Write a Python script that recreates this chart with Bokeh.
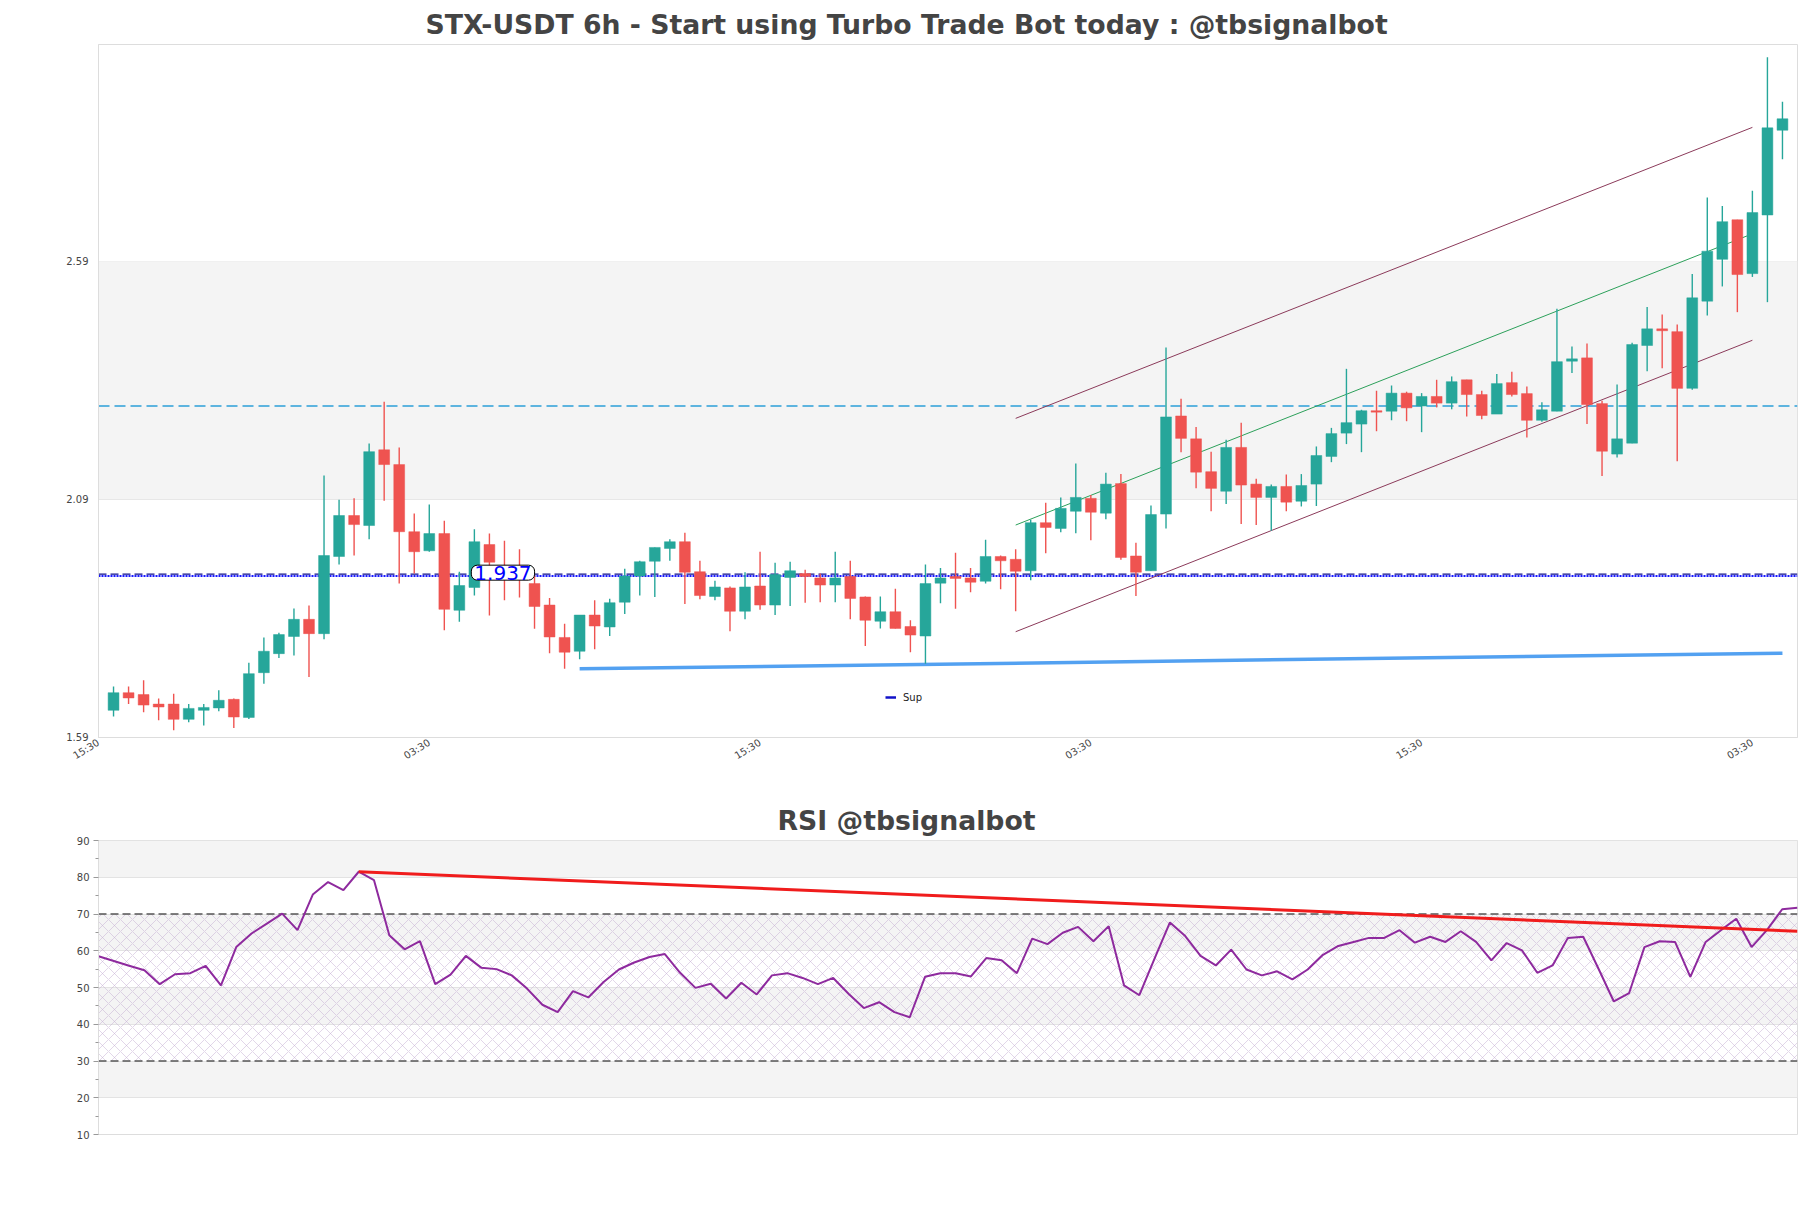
import numpy as np
from bokeh.plotting import figure
from bokeh.layouts import column
from bokeh.models import (Range1d, FixedTicker, Label, Legend, LegendItem, ColumnDataSource,
                          BoxAnnotation)
from bokeh.embed import file_html
from bokeh.resources import INLINE

# ---------------- data ----------------
opens = [1.647, 1.684, 1.680, 1.660, 1.660, 1.628, 1.647, 1.652, 1.670, 1.632,
         1.726, 1.766, 1.802, 1.838, 1.808, 1.970, 2.056, 2.035, 2.194, 2.163,
         2.022, 1.982, 2.018, 1.857, 1.905, 1.995, 1.950, 1.940, 1.913, 1.868,
         1.800, 1.771, 1.847, 1.822, 1.874, 1.929, 1.960, 1.987, 2.001, 1.938,
         1.886, 1.904, 1.855, 1.908, 1.868, 1.926, 1.934, 1.925, 1.910, 1.928,
         1.885, 1.834, 1.854, 1.823, 1.803, 1.914, 1.928, 1.925, 1.918, 1.970,
         1.964, 1.940, 2.041, 2.029, 2.065, 2.092, 2.061, 2.123, 1.971, 1.940,
         2.059, 2.265, 2.217, 2.148, 2.107, 2.199, 2.122, 2.094, 2.117, 2.086,
         2.122, 2.180, 2.229, 2.248, 2.276, 2.275, 2.313, 2.286, 2.306, 2.292,
         2.341, 2.310, 2.269, 2.335, 2.312, 2.256, 2.275, 2.380, 2.387, 2.291,
         2.185, 2.208, 2.413, 2.448, 2.442, 2.323, 2.506, 2.594, 2.677, 2.564,
         2.687, 2.865]
highs = [1.697, 1.697, 1.710, 1.672, 1.682, 1.660, 1.660, 1.689, 1.672, 1.747,
         1.800, 1.810, 1.861, 1.867, 2.140, 2.089, 2.092, 2.207, 2.295, 2.199,
         2.060, 2.079, 2.045, 1.938, 2.027, 2.018, 2.003, 1.985, 1.930, 1.883,
         1.829, 1.847, 1.878, 1.881, 1.944, 1.961, 1.989, 2.006, 2.020, 1.961,
         1.919, 1.907, 1.937, 1.980, 1.957, 1.959, 1.942, 1.934, 1.980, 1.961,
         1.886, 1.886, 1.902, 1.836, 1.953, 1.946, 1.978, 1.946, 2.005, 1.972,
         1.985, 2.047, 2.083, 2.094, 2.165, 2.099, 2.146, 2.143, 1.999, 2.077,
         2.409, 2.301, 2.242, 2.190, 2.215, 2.251, 2.133, 2.121, 2.142, 2.143,
         2.201, 2.240, 2.364, 2.278, 2.318, 2.329, 2.316, 2.313, 2.341, 2.348,
         2.341, 2.318, 2.353, 2.358, 2.327, 2.294, 2.490, 2.411, 2.417, 2.297,
         2.331, 2.419, 2.494, 2.478, 2.457, 2.563, 2.724, 2.706, 2.677, 2.738,
         3.018, 2.925]
lows = [1.634, 1.660, 1.643, 1.626, 1.605, 1.622, 1.615, 1.645, 1.610, 1.629,
        1.703, 1.757, 1.762, 1.717, 1.796, 1.953, 1.972, 2.006, 2.087, 1.913,
        1.934, 1.980, 1.815, 1.833, 1.888, 1.846, 1.878, 1.884, 1.818, 1.767,
        1.734, 1.754, 1.775, 1.803, 1.849, 1.888, 1.885, 1.961, 1.870, 1.880,
        1.878, 1.813, 1.838, 1.858, 1.847, 1.866, 1.873, 1.874, 1.874, 1.838,
        1.782, 1.819, 1.819, 1.769, 1.745, 1.872, 1.860, 1.895, 1.913, 1.901,
        1.855, 1.920, 1.977, 2.021, 2.019, 2.004, 2.048, 1.963, 1.887, 1.940,
        2.029, 2.189, 2.113, 2.065, 2.080, 2.038, 2.036, 2.024, 2.065, 2.075,
        2.076, 2.168, 2.206, 2.189, 2.233, 2.256, 2.254, 2.231, 2.283, 2.279,
        2.264, 2.258, 2.269, 2.306, 2.220, 2.253, 2.275, 2.355, 2.248, 2.139,
        2.178, 2.208, 2.359, 2.365, 2.170, 2.320, 2.476, 2.537, 2.483, 2.557,
        2.504, 2.804]
closes = [1.684, 1.673, 1.658, 1.654, 1.628, 1.651, 1.653, 1.668, 1.633, 1.724,
          1.771, 1.806, 1.838, 1.808, 1.972, 2.056, 2.037, 2.190, 2.163, 2.022,
          1.980, 2.018, 1.859, 1.909, 2.001, 1.958, 1.925, 1.930, 1.865, 1.801,
          1.769, 1.847, 1.824, 1.873, 1.929, 1.959, 1.989, 2.001, 1.937, 1.888,
          1.906, 1.855, 1.906, 1.868, 1.932, 1.940, 1.928, 1.910, 1.925, 1.882,
          1.836, 1.854, 1.819, 1.805, 1.913, 1.925, 1.924, 1.916, 1.970, 1.961,
          1.939, 2.041, 2.031, 2.071, 2.094, 2.063, 2.122, 1.968, 1.937, 2.058,
          2.263, 2.218, 2.147, 2.113, 2.199, 2.120, 2.094, 2.117, 2.084, 2.119,
          2.182, 2.228, 2.251, 2.276, 2.273, 2.313, 2.282, 2.306, 2.292, 2.337,
          2.310, 2.266, 2.333, 2.310, 2.256, 2.278, 2.379, 2.385, 2.289, 2.191,
          2.217, 2.415, 2.448, 2.444, 2.323, 2.513, 2.611, 2.673, 2.562, 2.692,
          2.870, 2.889]

rsi_values = [58.5, 57.2, 55.9, 54.7, 50.9, 53.6, 53.9, 55.9, 50.6, 61.0,
              64.7, 67.4, 70.1, 65.6, 75.3, 78.7, 76.5, 81.5, 79.2, 64.2,
              60.4, 62.6, 50.9, 53.5, 58.6, 55.4, 55.0, 53.3, 49.7, 45.3,
              43.3, 49.0, 47.3, 51.5, 54.9, 56.8, 58.3, 59.1, 54.0, 49.9,
              51.0, 47.0, 51.3, 48.1, 53.3, 53.9, 52.6, 50.9, 52.6, 48.3,
              44.4, 46.0, 43.3, 41.9, 52.9, 53.9, 53.9, 53.0, 58.0, 57.4,
              53.9, 63.3, 61.8, 64.9, 66.5, 62.6, 66.7, 50.6, 47.9, 57.9,
              67.7, 64.0, 58.6, 56.0, 60.3, 54.9, 53.3, 54.4, 52.2, 54.9,
              58.9, 61.3, 62.4, 63.5, 63.5, 65.6, 62.2, 63.8, 62.4, 65.3,
              62.4, 57.4, 62.1, 60.1, 54.0, 56.0, 63.5, 63.8, 55.1, 46.2,
              48.5, 61.0, 62.6, 62.4, 52.9, 62.4, 65.6, 68.7, 61.0, 65.6,
              71.3, 71.7]

x_tick_pos = [-1, 21, 43, 65, 87, 109]
x_tick_labels = ["15:30", "03:30", "15:30", "03:30", "15:30", "03:30"]
price_ticks = [1.59, 2.09, 2.59]
price_band = (2.09, 2.59)
rsi_ticks = [10, 20, 30, 40, 50, 60, 70, 80, 90]
rsi_minor = [15, 25, 35, 45, 55, 65, 75, 85]

resistance_level = 2.286
pivot_dash_level = 1.933
pivot_dot_level = 1.929
pivot_text = "1.937"
pivot_label_pos = (25.9, 1.936)

support_x = [31, 111]
support_y = [1.734, 1.767]
chan_x = [60, 109]
chan_upper = [2.260, 2.871]
chan_mid = [2.036, 2.6475]
chan_lower = [1.812, 2.424]

rsi_trend_idx = [17, 111]          # RSI point numbers
rsi_trend_y = [81.5, 65.3]
rsi_upper, rsi_lower = 70, 30

TITLE_MAIN = "STX-USDT 6h - Start using Turbo Trade Bot today : @tbsignalbot"
TITLE_RSI = "RSI @tbsignalbot"

# ---------------- styling helpers ----------------
FONT = "DejaVu Sans"
X0, X1 = -1, 112
UP, DOWN = "#26a69a", "#ef5350"


def style(p):
    p.outline_line_color = "#dddddd"
    p.outline_line_width = 1
    p.xgrid.grid_line_color = None
    p.ygrid.grid_line_color = "#e3e3e3"
    p.background_fill_color = "white"
    p.border_fill_color = "white"
    for ax in p.axis:
        ax.axis_line_color = "#dddddd"
        ax.major_label_text_font = FONT
        ax.major_label_text_color = "#444444"
        ax.major_label_text_font_size = "10px"
    p.title.text_font = FONT
    p.title.text_font_size = "26.7px"
    p.title.text_font_style = "bold"
    p.title.text_color = "#444444"
    p.title.align = "left"


# ---------------- main price chart ----------------
n = len(opens)
xs = list(range(n))
o = np.array(opens); c = np.array(closes)
top = np.maximum(o, c); bot = np.minimum(o, c)
small = (top - bot) < 0.003
mid = (top + bot) / 2
top = np.where(small, mid + 0.0015, top)
bot = np.where(small, mid - 0.0015, bot)
colors = [UP if cl >= op else DOWN for op, cl in zip(opens, closes)]

src = ColumnDataSource(dict(x=xs, high=highs, low=lows, top=top, bottom=bot, color=colors))

p1 = figure(width=1803, height=787, x_range=Range1d(X0, X1), y_range=Range1d(1.5899, 3.045),
            output_backend="svg", toolbar_location=None, title=TITLE_MAIN,
            min_border_left=98, min_border_right=6, min_border_top=44, min_border_bottom=50)
style(p1)
p1.title.offset = 327
p1.title.standoff = 10

p1.add_layout(BoxAnnotation(bottom=price_band[0], top=price_band[1], fill_color="#f4f4f4",
                            fill_alpha=1.0, line_alpha=0, level="underlay"))

p1.yaxis.ticker = FixedTicker(ticks=price_ticks)
p1.ygrid.ticker = FixedTicker(ticks=price_ticks)
p1.yaxis.major_tick_out = 0
p1.yaxis.major_tick_in = 0
p1.yaxis.minor_tick_out = 0
p1.yaxis.minor_tick_in = 0
p1.yaxis.major_label_standoff = 10

p1.xaxis.ticker = FixedTicker(ticks=x_tick_pos)
p1.xaxis.major_label_overrides = {t: lab for t, lab in zip(x_tick_pos, x_tick_labels)}
p1.xaxis.major_label_orientation = 0.55
p1.xaxis.major_tick_out = 0
p1.xaxis.major_tick_in = 0
p1.xaxis.minor_tick_out = 0
p1.xaxis.minor_tick_in = 0
p1.xaxis.major_label_standoff = 4

# horizontal levels
p1.line([X0, X1], [resistance_level] * 2, line_color="#2b9fd8", line_width=1.3, line_dash="11 5")
p1.line([X0, X1], [pivot_dot_level] * 2, line_color="#1a1aff", line_width=2.2, line_dash="2 1")
p1.line([X0, X1], [pivot_dash_level] * 2, line_color="#10108a", line_width=1.4, line_dash="8 4")

# channel
p1.line(chan_x, chan_upper, line_color="#8b3a5a", line_width=1)
p1.line(chan_x, chan_lower, line_color="#8b3a5a", line_width=1)
p1.line(chan_x, chan_mid, line_color="#2ca05a", line_width=1)

# support
p1.line(support_x, support_y, line_color="#4a9cf0", line_width=3.5, line_alpha=0.95)

# candles
p1.segment(x0="x", y0="high", x1="x", y1="low", color="color", line_width=1.4, source=src)
p1.vbar(x="x", width=0.72, top="top", bottom="bottom", fill_color="color", line_color="color",
        line_width=0.5, source=src)

# pivot label
lab = Label(x=pivot_label_pos[0], y=pivot_label_pos[1], text=pivot_text, text_align="center",
            text_baseline="middle", text_color="#0000ff", text_font=FONT, text_font_size="20px",
            background_fill_color="white", background_fill_alpha=1.0,
            border_line_color="black", border_line_width=1,
            padding=dict(left=3, right=3, top=1, bottom=0), border_radius=6)
p1.add_layout(lab)

# legend
dummy = p1.line(x=[np.nan, np.nan], y=[np.nan, np.nan], line_color="#1212c8", line_width=2.5)
legend = Legend(items=[LegendItem(label="Sup", renderers=[dummy])], location=(787, 34),
                padding=0, margin=0, background_fill_alpha=0, border_line_alpha=0,
                glyph_width=11, glyph_height=10, label_standoff=7, label_height=12,
                label_text_font=FONT, label_text_font_size="10px", label_text_color="#222222")
p1.add_layout(legend)

# ---------------- RSI chart ----------------
p2 = figure(width=1803, height=367, x_range=p1.x_range, y_range=Range1d(10, 90),
            output_backend="svg", toolbar_location=None, title=TITLE_RSI,
            min_border_left=98, min_border_right=6, min_border_top=53, min_border_bottom=20)
style(p2)
p2.title.standoff = 9
p2.ygrid.band_fill_color = "#f4f4f4"
p2.ygrid.band_fill_alpha = 1.0
p2.title.offset = 679
p2.xaxis.visible = False
p2.yaxis.ticker = FixedTicker(ticks=rsi_ticks, minor_ticks=rsi_minor)
p2.ygrid.ticker = FixedTicker(ticks=rsi_ticks)
p2.yaxis.major_tick_out = 5
p2.yaxis.major_tick_in = 0
p2.yaxis.minor_tick_out = 3
p2.yaxis.minor_tick_in = 0
p2.yaxis.major_tick_line_color = "#999999"
p2.yaxis.minor_tick_line_color = "#999999"
p2.yaxis.major_label_standoff = 4

p2.quad(left=[X0], right=[X1], bottom=[rsi_lower], top=[rsi_upper], fill_alpha=0, line_alpha=0,
        hatch_pattern="x", hatch_color="#c4aed2", hatch_alpha=0.7, hatch_scale=12, hatch_weight=0.7)
p2.line([X0, X1], [rsi_upper] * 2, line_color="#555555", line_width=1.3, line_dash="8 4")
p2.line([X0, X1], [rsi_lower] * 2, line_color="#555555", line_width=1.3, line_dash="8 4")

# RSI points are spread evenly across the full frame width
rsi_x = np.linspace(X0, X1, len(rsi_values))
p2.line(rsi_x, rsi_values, line_color="#8e2a9e", line_width=2)
p2.line([rsi_x[i] for i in rsi_trend_idx], rsi_trend_y, line_color="#f01c1c", line_width=3)

layout = column(p1, p2)
open("out.html", "w").write(file_html(layout, INLINE))
